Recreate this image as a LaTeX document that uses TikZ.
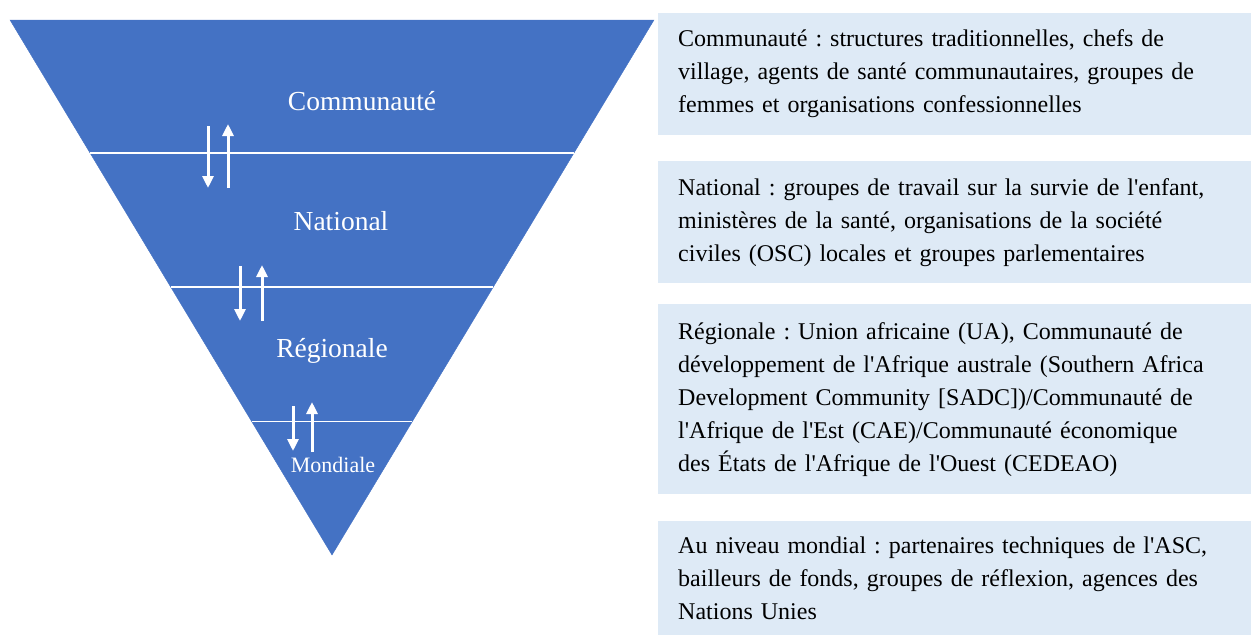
\documentclass[tikz,border=0pt]{standalone}
\usepackage{fontspec}
\setmainfont{Liberation Serif}
\usetikzlibrary{arrows.meta}
\definecolor{pyrblue}{HTML}{4472C4}
\definecolor{boxblue}{HTML}{DEEAF6}
\newcommand{\ap}{\textquotesingle}
\frenchspacing
\tikzset{
    infobox/.style={fill=boxblue, anchor=north west, minimum width=593pt, text width=553pt,
        inner xsep=20pt, inner ysep=0pt, align=left, font=\fontsize{24}{33}\selectfont},
    level/.style={text=white, anchor=base, font=\fontsize{27.5}{30}\selectfont},
    flow/.style={white, line width=3pt, -{Triangle[width=11pt,length=12pt]}}
}

\begin{document}
\begin{tikzpicture}[x=1pt,y=-1pt]
        \useasboundingbox (0,0) rectangle (1251,635);

        %%% Pyramid %%%
        \filldraw[pyrblue] (10,20) -- (654,20) -- (332,555) -- cycle;
        \draw[white,line width=1.5pt] (90,153)--(574,153);
        \draw[white,line width=1.5pt] (171,287)--(493,287);
        \draw[white,line width=1.5pt] (252,421.5)--(412,421.5);

        %%% Levels %%%
        \node[level] (com) at (362,110) {Communauté};
        \node[level] (nat) at (341,230) {National};
        \node[level] (reg) at (332,357) {Régionale};
        \node[level,font=\fontsize{22}{24}\selectfont] (mon) at (333,472) {Mondiale};

        %%% Up/down arrows %%%
        \draw[flow] (208,126)--(208,188);
        \draw[flow] (228,188)--(228,124);
        \draw[flow] (240,266)--(240,321);
        \draw[flow] (262,321)--(262,265);
        \draw[flow] (293,406)--(293,451);
        \draw[flow] (312,452)--(312,402);

        %%% Descriptions %%%
        \node[infobox,minimum height=122.3pt] (comBox) at (658,12.7)
            {Communauté : structures traditionnelles, chefs de\\
             village, agents de santé communautaires, groupes de\\
             femmes et organisations confessionnelles};
        \node[infobox,minimum height=122pt] (natBox) at (658,161)
            {National : groupes de travail sur la survie de l\ap enfant,\\
             ministères de la santé, organisations de la société\\
             civiles (OSC) locales et groupes parlementaires};
        \node[infobox,minimum height=190pt] (regBox) at (658,304)
            {Régionale : Union africaine (UA), Communauté de\\
             développement de l\ap Afrique australe (Southern Africa\\
             Development Community [SADC])/Communauté de\\
             l\ap Afrique de l\ap Est (CAE)/Communauté économique\\
             des États de l\ap Afrique de l\ap Ouest (CEDEAO)};
        \node[infobox,minimum height=114pt] (monBox) at (658,521)
            {Au niveau mondial : partenaires techniques de l\ap ASC,\\
             bailleurs de fonds, groupes de réflexion, agences des\\
             Nations Unies};
    \end{tikzpicture}
\end{document}
